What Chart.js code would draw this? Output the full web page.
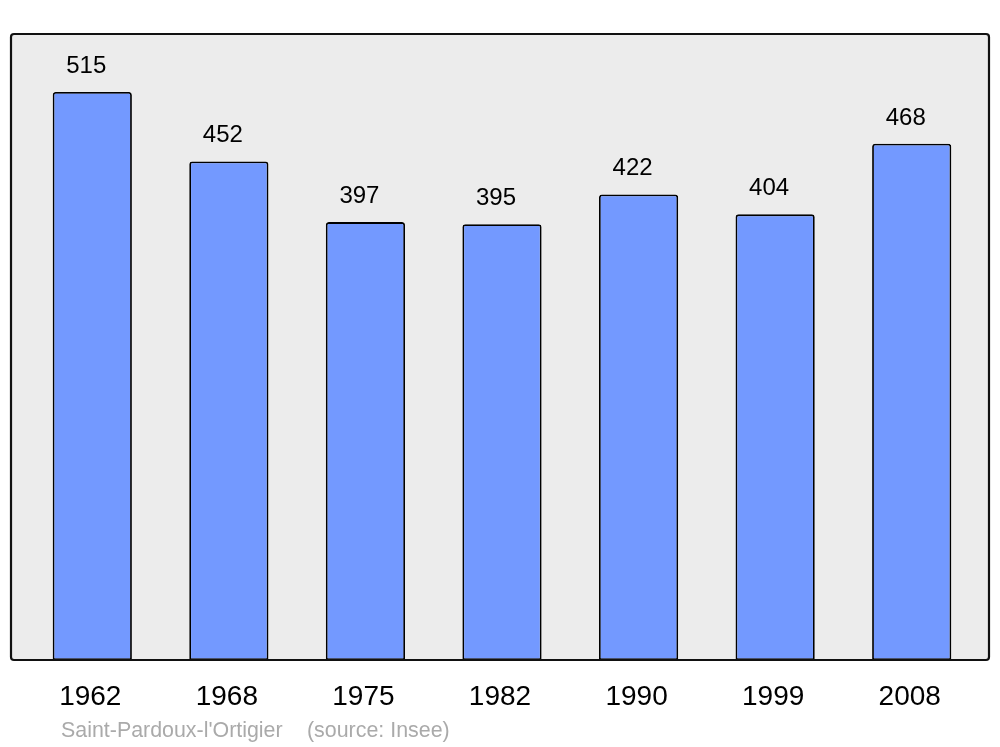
<!DOCTYPE html>
<html>
<head>
<meta charset="utf-8">
<script src="https://cdn.jsdelivr.net/npm/chart.js@4/dist/chart.umd.min.js"></script>
<style>
html,body{margin:0;padding:0;background:#fff;}
#wrap{width:1000px;height:747px;position:relative;}
</style>
</head>
<body>
<div id="wrap"><canvas id="c" width="1000" height="747"></canvas></div>
<script>
const years = ["1962","1968","1975","1982","1990","1999","2008"];
const population = [515,452,397,395,422,404,468];
const placeName = "Saint-Pardoux-l'Ortigier";
const sourceText = "(source: Insee)";

const FONT = '"Liberation Sans", Arial, sans-serif';

const boxPlugin = {
  id: 'box',
  beforeDatasetsDraw(chart) {
    const ctx = chart.ctx;
    ctx.save();
    ctx.beginPath();
    ctx.roundRect(11, 34, 978, 626, 3);
    ctx.fillStyle = '#ececec';
    ctx.fill();
    ctx.restore();
  },
  afterDatasetsDraw(chart) {
    const ctx = chart.ctx;
    ctx.save();
    ctx.beginPath();
    ctx.roundRect(11, 34, 978, 626, 3);
    ctx.lineWidth = 2.2;
    ctx.strokeStyle = '#111';
    ctx.stroke();
    // value labels
    const meta = chart.getDatasetMeta(0);
    ctx.fillStyle = '#000';
    ctx.font = '24px ' + FONT;
    ctx.textAlign = 'center';
    ctx.textBaseline = 'alphabetic';
    meta.data.forEach((bar, i) => {
      ctx.fillText(String(chart.data.datasets[0].data[i]), bar.x - 6, bar.y - 19);
    });
    // x labels
    const xs = chart.scales.x;
    ctx.font = '28px ' + FONT;
    years.forEach((y, i) => {
      ctx.fillText(y, xs.getPixelForValue(i) - 2, 705);
    });
    // source
    ctx.fillStyle = '#aaaaaa';
    ctx.font = '21.4px ' + FONT;
    ctx.textAlign = 'left';
    ctx.fillText(placeName, 61, 737);
    ctx.fillText(sourceText, 307, 737);
    ctx.restore();
  }
};

new Chart(document.getElementById('c'), {
  type: 'bar',
  data: {
    labels: years,
    datasets: [{
      data: population,
      backgroundColor: '#7399ff',
      borderColor: '#000',
      borderWidth: 1.8,
      borderRadius: {topLeft: 3, topRight: 3, bottomLeft: 0, bottomRight: 0},
      borderSkipped: false,
      categoryPercentage: 1,
      barPercentage: 0.58
    }]
  },
  options: {
    responsive: false,
    animation: false,
    devicePixelRatio: 1,
    layout: { padding: { left: 24, right: 20, top: 34, bottom: 87 } },
    plugins: { legend: { display: false }, tooltip: { enabled: false } },
    scales: {
      x: { display: false },
      y: { display: false, min: 0, max: 567.5 }
    }
  },
  plugins: [boxPlugin]
});
</script>
</body>
</html>
